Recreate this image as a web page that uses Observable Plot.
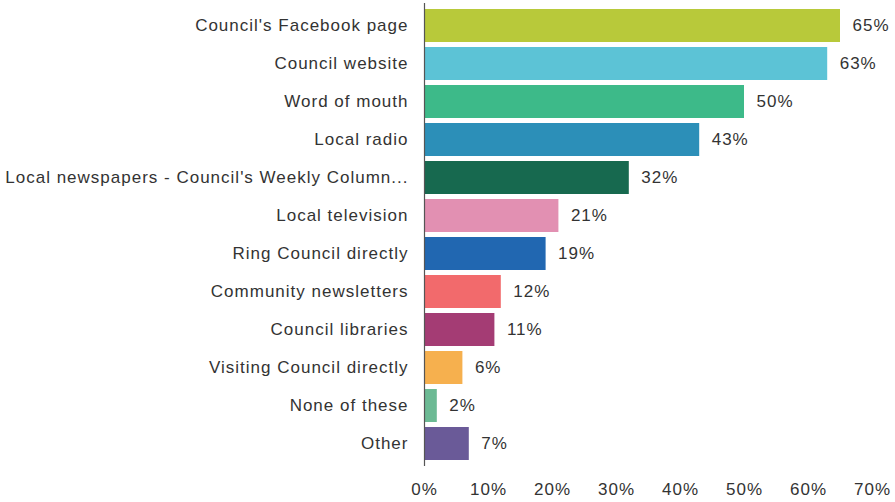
<!DOCTYPE html>
<html>
<head>
<meta charset="utf-8">
<script src="https://cdn.jsdelivr.net/npm/d3@7"></script>
<script src="https://cdn.jsdelivr.net/npm/@observablehq/plot@0.6"></script>
<style>
  html, body { margin: 0; padding: 0; background: #fff; }
  #chart svg { font-family: "Liberation Sans", Arial, sans-serif; }
  #chart text { letter-spacing: 1px; }
</style>
</head>
<body>
<div id="chart"></div>
<script>
const categories = [
  "Council's Facebook page",
  "Council website",
  "Word of mouth",
  "Local radio",
  "Local newspapers - Council's Weekly Column...",
  "Local television",
  "Ring Council directly",
  "Community newsletters",
  "Council libraries",
  "Visiting Council directly",
  "None of these",
  "Other"
];
const values = [65, 63, 50, 43, 32, 21, 19, 12, 11, 6, 2, 7];
const palette = [
  "#b8c93a", "#5cc3d6", "#3dba89", "#2c8fb8", "#17694f", "#e290b2",
  "#2167b1", "#f26a6c", "#a43c74", "#f6b04e", "#6cba94", "#6a5a98"
];
const xTicks = [0, 10, 20, 30, 40, 50, 60, 70];

const data = categories.map((c, i) => ({category: c, value: values[i], color: palette[i]}));

const chart = Plot.plot({
  width: 895,
  height: 502,
  marginLeft: 424,
  marginRight: 23,
  marginTop: 3,
  marginBottom: 36,
  style: {fontSize: "16px", color: "#333", background: "#fff"},
  x: {domain: [0, 70], ticks: xTicks, tickFormat: d => d + "%", label: null},
  y: {domain: categories, paddingInner: 0.14, paddingOuter: 0.13, label: null},
  color: {type: "identity"},
  marks: [
    Plot.gridX(xTicks.slice(1), {stroke: "#c8c8c8", strokeOpacity: 1, strokeWidth: 1, y1: 0, y2: 466}),
    Plot.barX(data, {x: "value", y: "category", fill: "color"}),
    Plot.text(data, {x: "value", y: "category", text: d => d.value + "%", textAnchor: "start", dx: 12, fill: "#333", fontSize: 17}),
    Plot.ruleX([0], {stroke: "#555", strokeWidth: 1.2}),
    Plot.ruleY([0], {stroke: "#666", strokeWidth: 1.5}),
    Plot.axisX({ticks: xTicks, tickFormat: d => d + "%", tickSize: 0, tickPadding: 16, fontSize: 17, label: null}),
    Plot.axisY({tickSize: 0, tickPadding: 16, fontSize: 17, label: null})
  ]
});
document.getElementById("chart").appendChild(chart);
</script>
</body>
</html>
